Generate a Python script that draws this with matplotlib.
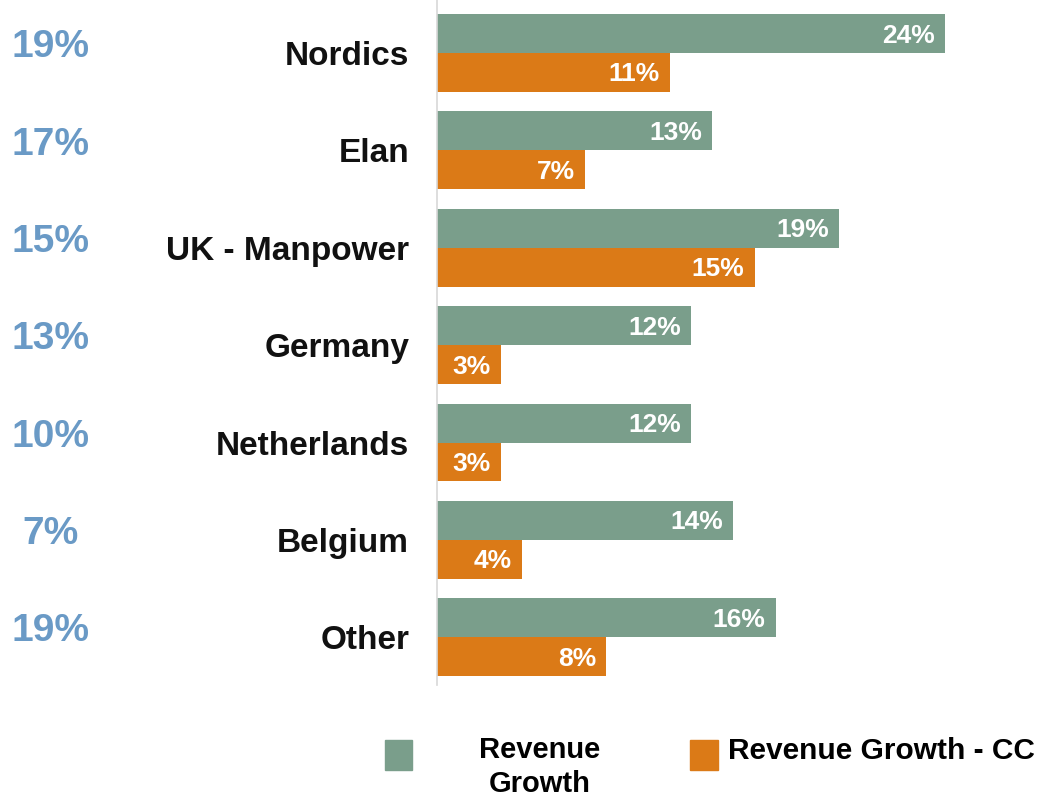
import matplotlib
matplotlib.use("Agg")
import matplotlib.pyplot as plt
from matplotlib.patches import Rectangle

plt.rcParams['font.family'] = ['Liberation Sans', 'DejaVu Sans']

categories = ["Nordics", "Elan", "UK - Manpower", "Germany", "Netherlands", "Belgium", "Other"]
revenue_growth = [24, 13, 19, 12, 12, 14, 16]
revenue_growth_cc = [11, 7, 15, 3, 3, 4, 8]
share_labels = ["19%", "17%", "15%", "13%", "10%", "7%", "19%"]
series_names = ["Revenue\nGrowth", "Revenue Growth - CC"]

GREEN = "#7a9e8b"
ORANGE = "#db7a17"
BLUE = "#6a9ac6"

W, H = 1037, 801
fig = plt.figure(figsize=(W / 100, H / 100), dpi=100)
ax = fig.add_axes([437 / W, 1 - 685 / H, (W - 437) / W, 685 / H])

n = len(categories)
ys = list(range(n))
bh = 0.4
ax.barh([y - bh / 2 for y in ys], revenue_growth, height=bh, color=GREEN)
ax.barh([y + bh / 2 for y in ys], revenue_growth_cc, height=bh, color=ORANGE)

px_per_unit = 21.17
xmax = (W - 437) / px_per_unit
ax.set_xlim(0, xmax)
ax.set_ylim(6.49, -0.545)

off = 10 / px_per_unit
for y, v in zip(ys, revenue_growth):
    ax.text(v - off, y - bh / 2 + 0.02, f"{v}%", ha="right", va="center", color="white",
            fontsize=19, fontweight="bold")
for y, v in zip(ys, revenue_growth_cc):
    ax.text(v - off, y + bh / 2 + 0.02, f"{v}%", ha="right", va="center", color="white",
            fontsize=19, fontweight="bold")

ax.set_yticks(ys)
ax.set_yticklabels(categories, fontsize=24, fontweight="bold", color="#111111")
ax.tick_params(axis="y", length=0, pad=20)
ax.set_xticks([])
for s in ["top", "right", "bottom"]:
    ax.spines[s].set_visible(False)
ax.spines["left"].set_color("#d8d8d8")
ax.spines["left"].set_linewidth(1.2)

# share column on the left
trans = ax.get_yaxis_transform()
for y, lab in zip(ys, share_labels):
    ax.text(-437 / (W - 437) + 51 / (W - 437), y - 0.06, lab, transform=trans,
            ha="center", va="center", color=BLUE, fontsize=28, fontweight="bold",
            clip_on=False)

# legend
fig.patches.append(Rectangle((385 / W, 1 - 770 / H), 27 / W, 30 / H,
                             transform=fig.transFigure, color=GREEN))
fig.patches.append(Rectangle((690 / W, 1 - 770 / H), 28 / W, 30 / H,
                             transform=fig.transFigure, color=ORANGE))
fig.text(540 / W, 1 - 767 / H, series_names[0], ha="center", va="center",
         fontsize=21, fontweight="bold", linespacing=1.3)
fig.text(728 / W, 1 - 751 / H, series_names[1], ha="left", va="center",
         fontsize=21.5, fontweight="bold")

fig.savefig("out.png", dpi=100)
